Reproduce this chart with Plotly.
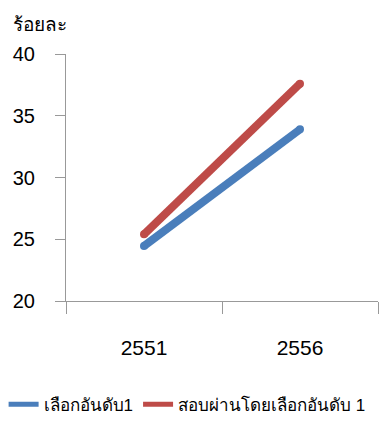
import plotly.graph_objects as go

years = ["2551", "2556"]
first_choice = [24.45, 33.9]
passed_first_choice = [25.4, 37.6]
series_names = ["เลือกอันดับ1", "สอบผ่านโดยเลือกอันดับ 1"]
y_ticks = [20, 25, 30, 35, 40]
colors = ["#4a7ebb", "#be4b48"]

fig = go.Figure()
for name, vals, col in zip(series_names, [first_choice, passed_first_choice], colors):
    fig.add_trace(go.Scatter(x=years, y=vals, mode="lines", name=name,
                             line=dict(color=col, width=8), legendgroup=name))
    # round line caps
    fig.add_trace(go.Scatter(x=years, y=vals, mode="markers", name=name,
                             marker=dict(color=col, size=8), showlegend=False,
                             legendgroup=name, hoverinfo="skip"))

font = "Liberation Sans, Noto Sans, DejaVu Sans, sans-serif"
fig.update_layout(
    width=382, height=429,
    margin=dict(l=66, r=4, t=54, b=128, autoexpand=False),
    plot_bgcolor="white", paper_bgcolor="white",
    font=dict(family=font, size=20, color="black"),
    showlegend=True,
    legend=dict(orientation="h", x=-0.2, y=-0.42, xanchor="left", yanchor="middle",
                font=dict(size=17), itemwidth=30, tracegroupgap=0,
                itemsizing="constant"),
    annotations=[dict(text="ร้อยละ", xref="paper", yref="paper", x=-0.175, y=1.12,
                      xanchor="left", yanchor="middle", showarrow=False,
                      font=dict(size=19))],
)
fig.update_xaxes(type="category", range=[-0.5, 1.5], tickson="boundaries",
                 ticks="outside", ticklen=12, tickcolor="#999", showline=True,
                 linecolor="#999", linewidth=1, showgrid=False, zeroline=False,
                 ticklabelstandoff=28, tickfont=dict(size=21))
fig.update_yaxes(range=[20, 40], tickvals=y_ticks, ticks="outside", ticklen=10,
                 tickcolor="#999", showline=True, linecolor="#999", linewidth=1,
                 showgrid=False, zeroline=False, ticklabelstandoff=16)
fig.write_html("out.html", config={"displayModeBar": False},
               post_script="document.body.style.margin='0px';")
